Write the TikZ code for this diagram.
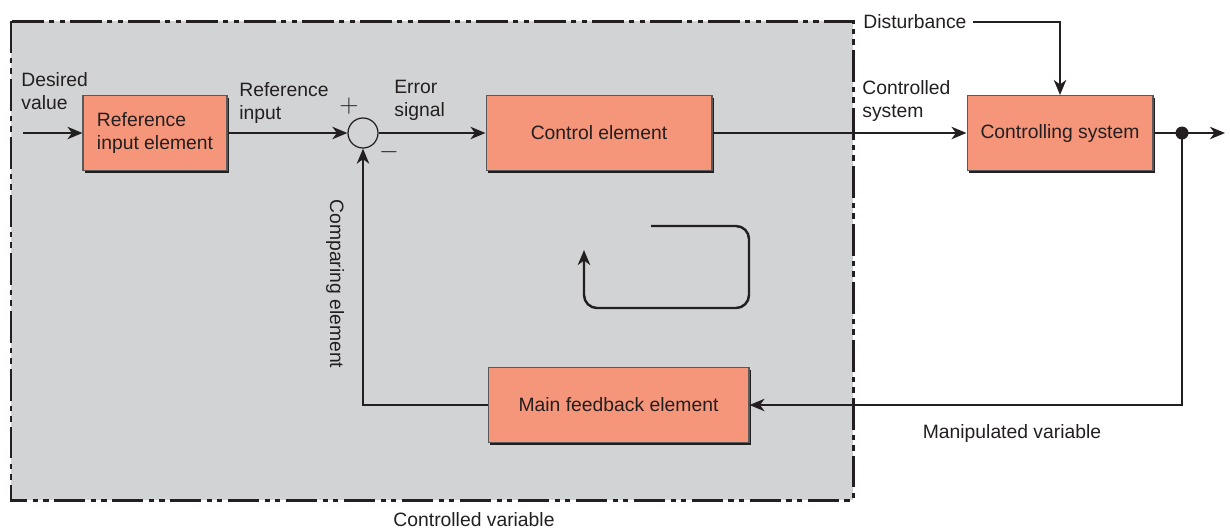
\documentclass[tikz,border=0pt]{standalone}
\usepackage{fontspec}
\setmainfont{Liberation Sans}
\usetikzlibrary{arrows.meta,shadows}
\definecolor{salmon}{HTML}{F5967A}
\definecolor{bggray}{HTML}{D1D3D5}
\definecolor{ink}{HTML}{231F20}
\begin{document}
\begin{tikzpicture}[x=0.02cm,y=-0.02cm,font=\fontsize{11}{13}\selectfont,text=ink,
blk/.style={draw=black!65,line width=0.6pt,fill=salmon,general shadow={fill=ink,shadow xshift=1.3pt,shadow yshift=-1.3pt},minimum height=1.5cm,align=left},
lbl/.style={inner sep=0pt,align=left,anchor=west},
sig/.style={draw=ink,line width=1.4pt,-{Stealth[length=8.5pt,width=7pt,inset=2.5pt]}}]
\useasboundingbox (0,0) rectangle (1230,529);
\draw[fill=bggray,draw=ink,line width=1.7pt,dash pattern=on 18pt off 3pt on 3pt off 3pt on 3pt off 3pt](11,21) rectangle (853,500);
\node[blk,minimum width=2.88cm] (ref) at (155,133) {Reference\\input element};
\node[blk,minimum width=4.52cm] (ctl) at (599,133) {Control element};
\node[blk,minimum width=3.72cm] (sys) at (1060,133) {Controlling system};
\node[blk,minimum width=5.22cm] (fb) at (618.5,405) {Main feedback element};
\node[circle,draw=ink,line width=0.7pt,minimum size=0.6cm,inner sep=0pt] (sum) at (363,133) {};
\node (plus) at (349,106) {\Large$+$};
\node (minus) at (389,152) {\Large$-$};
%signals
\coordinate (in) at (23,133);\coordinate (tap) at (1182,133);\coordinate (out) at (1225,133);
\draw[sig] (in) -- (ref);
\draw[sig] (ref) -- (sum);
\draw[sig] (sum) -- (ctl);
\draw[sig] (ctl) -- (sys);
\draw[sig] (sys) -- (out);
\draw[sig] (tap) |- (fb);
\draw[sig] (fb) -| (sum);
\fill[ink] (tap) circle (0.13cm);
\node[lbl] (dist) at (863,22) {Disturbance};
\draw[sig,shorten <=0.12cm] (dist) -| (sys);
%labels
\node[lbl] (dv) at (21,91) {Desired\\value};
\node[lbl] (ri) at (239,103) {Reference\\input};
\node[lbl] (es) at (394,100) {Error\\signal};
\node[lbl] (cs) at (862,101) {Controlled\\system};
\node[rotate=-90] (cmp) at (335,284) {Comparing element};
\node (mv) at (1012,433) {Manipulated variable};
\node (cv) at (474,520) {Controlled variable};
%loop symbol
\draw[sig,rounded corners=0.26cm] (651,226) -- (749,226) -- (749,308) -- (584,308) -- (584,250);
\end{tikzpicture}
\end{document}
